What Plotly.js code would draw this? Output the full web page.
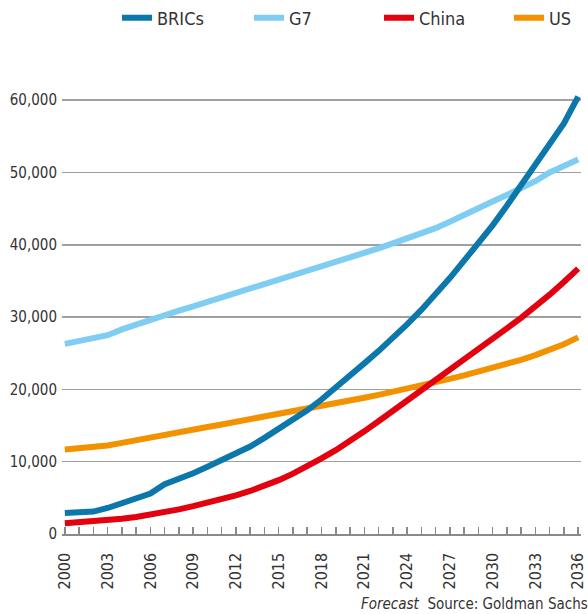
<!DOCTYPE html>
<html>
<head>
<meta charset="utf-8">
<script src="https://cdn.plot.ly/plotly-3.0.1.min.js"></script>
<style>html,body{margin:0;padding:0;background:#fff;}#chart{width:588px;height:614px;}</style>
</head>
<body>
<div id="chart"></div>
<script>
const years = [2000,2001,2002,2003,2004,2005,2006,2007,2008,2009,2010,2011,2012,2013,2014,2015,2016,2017,2018,2019,2020,2021,2022,2023,2024,2025,2026,2027,2028,2029,2030,2031,2032,2033,2034,2035,2036];
const tickYears = [2000,2003,2006,2009,2012,2015,2018,2021,2024,2027,2030,2033,2036];
const bricsValues = [2900,2950,3100,3600,4200,4900,5600,6900,7600,8400,9300,10200,11100,12100,13300,14500,15700,17100,18600,20200,21900,23600,25300,27100,29000,31000,33100,35400,37800,40200,42700,45400,48200,51000,53900,56800,60500];
const g7Values = [26300,26700,27100,27500,28300,29000,29700,30400,30900,31500,32100,32700,33400,34000,34600,35200,35800,36400,37100,37700,38300,38900,39500,40200,40900,41500,42300,43200,44200,45100,46000,46900,47800,48800,50000,50900,51800];
const chinaValues = [1500,1600,1750,1900,2100,2350,2650,3000,3400,3850,4300,4800,5350,5950,6650,7450,8350,9350,10450,11600,12850,14200,15600,17000,18450,19900,21350,22800,24200,25600,27000,28450,29900,31450,33100,34850,36700];
const usValues = [11700,11850,12000,12250,12600,13000,13400,13750,14100,14450,14800,15150,15500,15850,16200,16550,16900,17250,17650,18050,18450,18850,19250,19650,20050,20500,20950,21450,21950,22450,22950,23500,24100,24750,25450,26250,27200];

const FONT = "'DejaVu Sans Condensed', 'Liberation Sans Narrow', sans-serif";
const TXT = '#333333';

function tr(name, y, color, legendId) {
  return {x: years, y: y, name: name, type: 'scatter', mode: 'lines',
          line: {color: color, width: 6}, legend: legendId, hoverinfo: 'skip'};
}
const data = [
  tr('G7', g7Values, '#7fcdf2', 'legend2'),
  tr('US', usValues, '#f39200', 'legend4'),
  tr('China', chinaValues, '#e3000f', 'legend3'),
  tr('BRICs', bricsValues, '#0b77aa', 'legend')
];

function leg(px) {
  return {orientation: 'h', xref: 'container', yref: 'container', x: px / 588, y: 1 - 18 / 614,
          xanchor: 'left', yanchor: 'middle', bgcolor: 'rgba(0,0,0,0)',
          font: {family: FONT, size: 18, color: TXT}, itemwidth: 30};
}

const layout = {
  width: 588, height: 614,
  margin: {l: 62, r: 7, t: 93, b: 80, pad: 0},
  paper_bgcolor: '#fff', plot_bgcolor: '#fff',
  font: {family: FONT, color: TXT},
  showlegend: true,
  legend: leg(117), legend2: leg(249), legend3: leg(379), legend4: leg(509),
  xaxis: {
    range: [1999.8, 2036.2], showgrid: false, zeroline: false,
    tickmode: 'array', tickvals: tickYears, ticktext: tickYears.map(String),
    tickangle: -90, ticks: 'inside', ticklen: 7, tickwidth: 1.5, tickcolor: '#8a8a8a',
    minor: {dtick: 1, tick0: 2000, ticks: 'inside', ticklen: 7, tickwidth: 1.5, tickcolor: '#8a8a8a', showgrid: false},
    showline: true, linecolor: '#8a8a8a', linewidth: 1.5,
    tickfont: {family: FONT, size: 16, color: TXT}, ticklabelstandoff: 11
  },
  yaxis: {
    range: [0, 61000], tickvals: [0,10000,20000,30000,40000,50000,60000], tickformat: ',d',
    showgrid: true, gridcolor: '#a0a0a0', gridwidth: 1.5, zeroline: false, showline: false,
    ticks: '', tickfont: {family: FONT, size: 15, color: TXT}, ticklabelstandoff: 4
  },
  annotations: [{
    xref: 'paper', yref: 'paper', x: 1.017, y: -0.159, xanchor: 'right', yanchor: 'middle',
    showarrow: false, text: '<i>Forecast</i>  Source: Goldman Sachs',
    font: {family: FONT, size: 15, color: TXT}
  }]
};

Plotly.newPlot('chart', data, layout, {displayModeBar: false, staticPlot: true});
</script>
</body>
</html>
